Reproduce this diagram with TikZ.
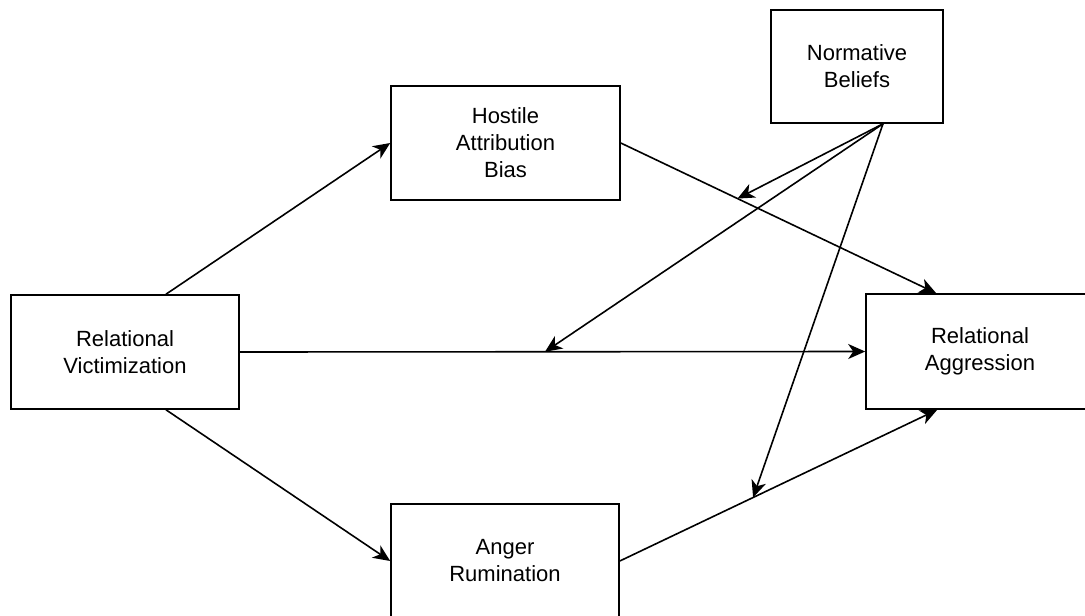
\documentclass[tikz,border=0pt]{standalone}
\usepackage{fontspec}
\setmainfont{Liberation Sans}
\usetikzlibrary{arrows.meta,calc}

\tikzset{
    varbox/.style={draw, line width=1.6pt, minimum width=228pt, minimum height=114pt,
        inner sep=0pt, align=center, font=\fontsize{22}{27}\selectfont},
    path/.style={line width=1.6pt, -{Stealth[length=17pt,width=15pt,inset=5pt]}}
}

\begin{document}
\begin{tikzpicture}[x=1pt,y=-1pt]
    \useasboundingbox (0,0) rectangle (1085,616);

    % le variabili
    \node[varbox] (rv) at (125,352) {Relational\\Victimization};
    \node[varbox, minimum width=229pt] (hab) at (505.5,143) {Hostile\\Attribution\\Bias};
    \node[varbox] (ar) at (505,561) {Anger\\Rumination};
    \node[varbox, minimum height=115pt] (ra) at (980,351.5) {Relational\\Aggression};
    \node[varbox, minimum width=172pt, minimum height=113pt] (nb) at (857,66.5) {Normative\\Beliefs};

    % punti di ingresso e uscita
    \coordinate (raTop) at ($(ra.north west)+(71,0)$);
    \coordinate (raBot) at ($(ra.south west)+(72,0)$);
    \coordinate (rvTop) at ($(rv.north)+(41,0)$);
    \coordinate (rvBot) at ($(rv.south)+(41,0)$);
    \coordinate (nbOut) at ($(nb.south)+(26,0)$);

    % percorsi principali
    \draw[path] (rvTop) -- (hab.west);
    \draw[path] (rvBot) -- (ar.west);
    \draw[path] (rv.east) -- (ra.west);
    \draw[path] (hab.east) -- (raTop);
    \draw[path] (ar.east) -- (raBot);

    % moderazione
    \coordinate (m1) at ($(hab.east)!0.37!(raTop)$);
    \coordinate (m2) at ($(rv.east)!0.488!(ra.west)$);
    \coordinate (m3) at ($(ar.east)!0.42!(raBot)$);
    \draw[path] (nbOut) -- (m1);
    \draw[path] (nbOut) -- (m2);
    \draw[path] (nbOut) -- (m3);
\end{tikzpicture}
\end{document}
